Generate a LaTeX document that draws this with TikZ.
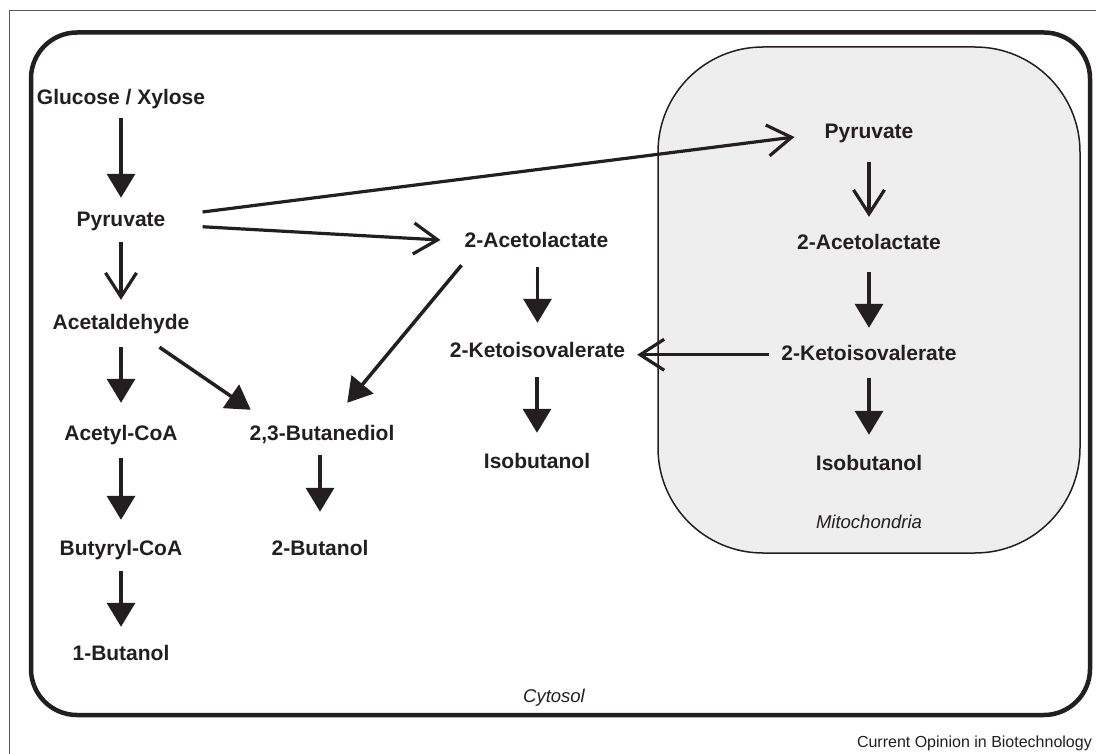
\documentclass[tikz,border=0pt]{standalone}
\usepackage{fontspec}
\setmainfont{Liberation Sans}
\usetikzlibrary{arrows.meta,calc}
\definecolor{ink}{HTML}{231F20}
\definecolor{mitofill}{HTML}{EEEEEE}
\begin{document}
\begin{tikzpicture}[x=1pt,y=-1pt,
  lbl/.style={font=\bfseries\fontsize{21}{25}\selectfont, text=ink, inner sep=0pt, text height=15pt, text depth=4.5pt, anchor=base},
  itlbl/.style={font=\itshape\fontsize{18.5}{22}\selectfont, text=ink, inner sep=0pt, anchor=base},
  fa/.style={draw=ink, line width=3.5pt, -{Triangle[length=24pt,width=28pt]}},
  oa/.style={draw=ink, line width=3.2pt, -{Straight Barb[length=24pt,width=31pt]}}]
\useasboundingbox (0,0) rectangle (1096,754);
\fill[white] (0,0) rectangle (1096,754);
% outer frame
\draw[black!65, line width=1pt] (9,754) -- (9,11) -- (1096,11);
% cytosol
\draw[ink, line width=4.5pt, rounded corners=46pt] (31,32.5) rectangle (1090,715);
% mitochondria
\draw[ink, fill=mitofill, line width=1.5pt, rounded corners=105pt] (658,47) rectangle (1080,553);

% nodes
\node[lbl] (glu)  at (121,104.5) {Glucose / Xylose};
\node[lbl] (pyrL) at (121,227) {Pyruvate};
\node[lbl] (acet) at (121,330) {Acetaldehyde};
\node[lbl] (acoa) at (121,440) {Acetyl-CoA};
\node[lbl] (bcoa) at (121,555) {Butyryl-CoA};
\node[lbl] (but1) at (121,660) {1-Butanol};
\node[lbl] (bd)   at (322,440) {2,3-Butanediol};
\node[lbl] (but2) at (320,555) {2-Butanol};
\node[lbl] (acL)  at (536.5,248) {2-Acetolactate};
\node[lbl] (kivL) at (537.5,358) {2-Ketoisovalerate};
\node[lbl] (ibL)  at (537,468) {Isobutanol};
\node[lbl] (pyrM) at (869,139) {Pyruvate};
\node[lbl] (acM)  at (869,250) {2-Acetolactate};
\node[lbl] (kivM) at (869,360) {2-Ketoisovalerate};
\node[lbl] (ibM)  at (869,470) {Isobutanol};
\node[itlbl] (mito) at (869,528) {Mitochondria};
\node[itlbl] (cyto) at (554,702) {Cytosol};
\node[font=\fontsize{16}{19}\selectfont, text=ink, inner sep=0pt, anchor=base east] (src) at (1092,747) {Current Opinion in Biotechnology};

% left column
\draw[fa, shorten <=9pt, shorten >=14pt] (glu.south) -- (pyrL.north);
\draw[oa, shorten <=10.5pt, shorten >=15pt] (pyrL.south) -- (acet.north);
\draw[fa, shorten <=12.5pt, shorten >=22pt] (acet.south) -- (acoa.north);
\draw[fa, shorten <=13.5pt, shorten >=20pt] (acoa.south) -- (bcoa.north);
\draw[fa, shorten <=11pt, shorten >=18pt] (bcoa.south) -- (but1.north);
\draw[fa, shorten <=10.5pt, shorten >=28pt] (bd.south -| but2.north) -- (but2.north);
% diagonals to butanediol
\draw[fa] ($(acet.south east)+(-30,12.5)$) -- ($(bd.north west)+(1.3,-15)$);
\draw[fa] ($(acL.south west)+(-3,12.5)$) -- ($(bd.north east)+(-47.3,-22)$);
% pyruvate branches
\draw[oa] ($(pyrL.east)+(37,5)$) -- ($(acL.west)+(-24,-2.75)$);
\draw[oa] ($(pyrL.east)+(37,-9.75)$) -- ($(pyrM.west)+(-30,3.25)$);
% cytosol isobutanol column
\draw[fa, shorten <=14.5pt, shorten >=20pt] (acL.south -| kivL.north) -- (kivL.north);
\draw[fa, shorten <=14.5pt, shorten >=20pt] (kivL.south -| ibL.north) -- (ibL.north);
% mitochondria column
\draw[oa, shorten <=18.5pt, shorten >=18pt] (pyrM.south) -- (acM.north);
\draw[fa, shorten <=17.5pt, shorten >=17pt] (acM.south) -- (kivM.north);
\draw[fa, shorten <=13.5pt, shorten >=20pt] (kivM.south) -- (ibM.north);
% export of ketoisovalerate
\draw[oa, shorten <=12.5pt, shorten >=12pt] (kivM.west) -- (kivM.west -| kivL.east);
\end{tikzpicture}
\end{document}
